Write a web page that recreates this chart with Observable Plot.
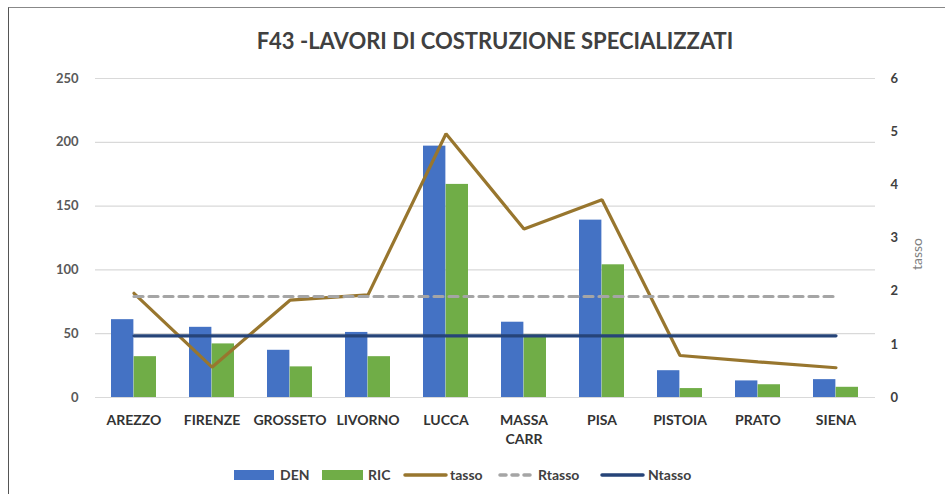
<!DOCTYPE html>
<html>
<head>
<meta charset="utf-8">
<script src="https://cdn.jsdelivr.net/npm/d3@7"></script>
<script src="https://cdn.jsdelivr.net/npm/@observablehq/plot@0.6"></script>
<style>
  html, body { margin: 0; padding: 0; background: #fff; }
  #wrap { position: relative; width: 945px; height: 494px; overflow: hidden; font-family: Lato, "Open Sans", sans-serif; }
  #border { position: absolute; left: 8px; top: 7px; width: 2000px; height: 2000px; border-left: 1.5px solid #555; border-top: 1.5px solid #888; box-sizing: border-box; }
  #title { position: absolute; left: 0; width: 990px; top: 27px; text-align: center; font-size: 22px; font-weight: 700; color: #404040; }
  .lg { position: absolute; font-size: 14px; font-weight: 700; color: #404040; top: 466px; }
  .sw { position: absolute; top: 470px; }
  #chart { position: absolute; left: 0; top: 0; }
</style>
</head>
<body>
<div id="wrap">
  <div id="border"></div>
  <div id="chart"></div>
  <div id="title">F43 -LAVORI DI COSTRUZIONE SPECIALIZZATI</div>
  <div id="legend"></div>
</div>
<script>
const cities = ["AREZZO", "FIRENZE", "GROSSETO", "LIVORNO", "LUCCA", "MASSA CARR", "PISA", "PISTOIA", "PRATO", "SIENA"];
const den = [61, 55, 37, 51, 197, 59, 139, 21, 13, 14];
const ric = [32, 42, 24, 32, 167, 49, 104, 7, 10, 8];
const tasso = [1.96, 0.57, 1.83, 1.93, 4.96, 3.17, 3.72, 0.79, 0.67, 0.56];
const rtasso = 1.9;
const ntasso = 1.16;
const leftTicks = [0, 50, 100, 150, 200, 250];
const rightTicks = [0, 1, 2, 3, 4, 5, 6];

const colors = {DEN: "#4472C4", RIC: "#70AD47", tasso: "#98762E", Rtasso: "#A5A5A5", Ntasso: "#264478"};
const k = 250 / 6; // right axis -> left axis

const denData = cities.map((c, i) => ({city: c, v: den[i]}));
const ricData = cities.map((c, i) => ({city: c, v: ric[i]}));
const tassoData = cities.map((c, i) => ({city: c, v: tasso[i]}));
const rData = cities.map(c => ({city: c, v: rtasso}));
const nData = cities.map(c => ({city: c, v: ntasso}));

const step = 78, bw = step * 0.58;

const chart = Plot.plot({
  width: 945,
  height: 494,
  marginLeft: 95,
  marginRight: 70,
  marginTop: 78,
  marginBottom: 97,
  style: {fontFamily: "Lato, 'Open Sans', sans-serif", background: "transparent"},
  x: {domain: cities, paddingInner: 0.42, paddingOuter: 0.21, axis: null},
  y: {domain: [0, 250], axis: null},
  marks: [
    Plot.gridY(leftTicks, {stroke: "#d9d9d9", strokeOpacity: 1, strokeWidth: 1.2}),
    Plot.barY(denData, {x: "city", y: "v", fill: colors.DEN, insetRight: bw / 2}),
    Plot.barY(ricData, {x: "city", y: "v", fill: colors.RIC, insetLeft: bw / 2}),
    Plot.line(tassoData, {x: "city", y: d => d.v * k, stroke: colors.tasso, strokeWidth: 3.2, strokeLinejoin: "miter"}),
    Plot.line(rData, {x: "city", y: d => d.v * k, stroke: colors.Rtasso, strokeWidth: 3.2, strokeDasharray: "9,6", strokeLinecap: "round"}),
    Plot.line(nData, {x: "city", y: d => d.v * k, stroke: colors.Ntasso, strokeWidth: 3.2, strokeLinecap: "round"}),
    Plot.axisY(leftTicks, {anchor: "left", tickSize: 0, tickPadding: 17, fontSize: 13, fontWeight: 700, fill: "#595959", label: null}),
    Plot.axisY(rightTicks, {anchor: "right", y: d => d * k, tickFormat: d => d, tickSize: 0, tickPadding: 15, fontSize: 13, fontWeight: 700, fill: "#404040", label: null}),
    Plot.text(["tasso"], {frameAnchor: "right", dx: 42, rotate: -90, fontSize: 14, fill: "#7f7f7f"}),
    Plot.axisX({anchor: "bottom", tickSize: 0, tickPadding: 14, fontSize: 14, fontWeight: 700, fill: "#333", label: null, lineHeight: 1.35, tickFormat: d => d.replace(" ", "\n")})
  ]
});
document.getElementById("chart").appendChild(chart);

// legend
const lg = document.getElementById("legend");
const items = [
  {name: "DEN", type: "rect", x: 234, w: 40, tx: 280},
  {name: "RIC", type: "rect", x: 322, w: 41, tx: 368},
  {name: "tasso", type: "line", x: 404, w: 43, tx: 450},
  {name: "Rtasso", type: "dash", x: 499, w: 32, tx: 538},
  {name: "Ntasso", type: "line", x: 601, w: 43, tx: 648}
];
for (const it of items) {
  const svg = document.createElementNS("http://www.w3.org/2000/svg", "svg");
  svg.setAttribute("class", "sw");
  svg.setAttribute("width", it.w + 4);
  svg.setAttribute("height", 10);
  svg.style.left = (it.x - 2) + "px";
  if (it.type === "rect") {
    svg.innerHTML = `<rect x="2" y="0" width="${it.w}" height="10" fill="${colors[it.name]}"/>`;
  } else {
    const dash = it.type === "dash" ? 'stroke-dasharray="6,6"' : "";
    svg.innerHTML = `<line x1="3" x2="${it.w + 1}" y1="5" y2="5" stroke="${colors[it.name]}" stroke-width="3.5" stroke-linecap="round" ${dash}/>`;
  }
  lg.appendChild(svg);
  const t = document.createElement("div");
  t.className = "lg";
  t.style.left = it.tx + "px";
  t.textContent = it.name;
  lg.appendChild(t);
}
</script>
</body>
</html>
